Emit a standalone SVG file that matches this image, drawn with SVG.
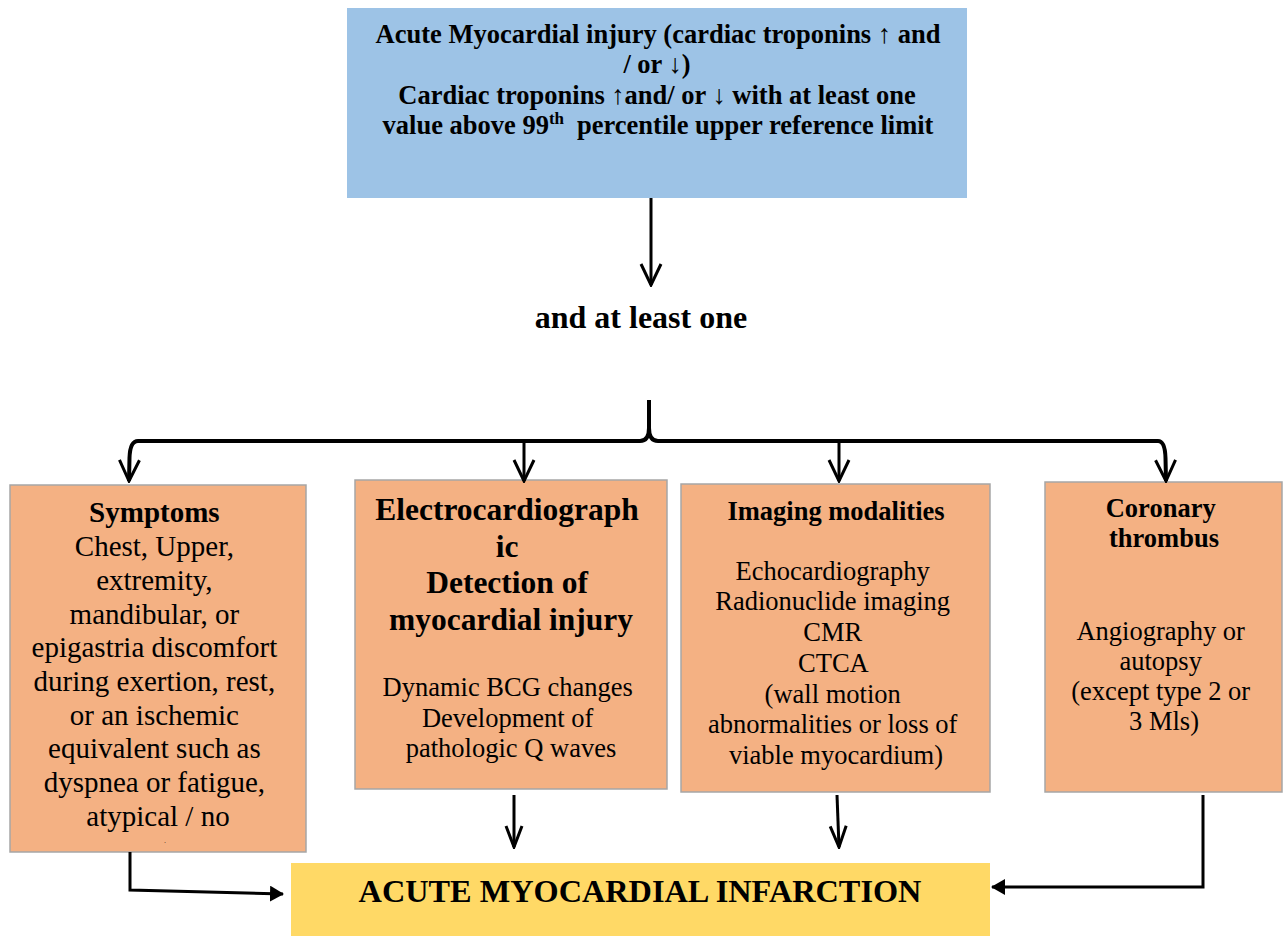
<svg xmlns="http://www.w3.org/2000/svg" width="1283" height="936" viewBox="0 0 1283 936">
<style>
text{font-family:"Liberation Serif","Times New Roman",serif;fill:#000;text-anchor:middle}
.b{font-weight:bold}
.top{font-size:26.5px;font-weight:bold}
.box{fill:#F4B183;stroke:#A6A6A6;stroke-width:1.5}
.ln{fill:none;stroke:#000;stroke-width:3}
.br{fill:none;stroke:#000;stroke-width:4}
</style>
<defs>
<marker id="vo" viewBox="0 0 24 24" refX="22" refY="12" markerWidth="24" markerHeight="24" markerUnits="userSpaceOnUse" orient="auto">
<path d="M1,2 L22,12 L1,22" fill="none" stroke="#000" stroke-width="3"/>
</marker>
<marker id="vs" viewBox="0 0 24 24" refX="22" refY="12" markerWidth="24" markerHeight="24" markerUnits="userSpaceOnUse" orient="auto">
<path d="M1,4 L22,12 L1,20" fill="none" stroke="#000" stroke-width="3"/>
</marker>
<marker id="tf" viewBox="0 0 14 16" refX="13" refY="8" markerWidth="14" markerHeight="16" markerUnits="userSpaceOnUse" orient="auto">
<path d="M0,0 L14,8 L0,16 Z" fill="#000"/>
</marker>
</defs>

<g id="top-node">
<rect x="347" y="8" width="620" height="190" fill="#9DC3E6"/>
<text class="top" x="658" y="43">Acute Myocardial injury (cardiac troponins ↑ and</text>
<text class="top" x="657" y="73">/ or ↓)</text>
<text class="top" x="657" y="104">Cardiac troponins ↑and/ or ↓ with at least one</text>
<text class="top" x="658" y="134">value above 99<tspan font-size="17" dy="-10">th</tspan><tspan dy="10" dx="13">percentile upper reference limit</tspan></text>
</g>

<g id="label-at-least">
<text class="b" x="641" y="328" font-size="32">and at least one</text>
</g>

<g id="symptoms">
<rect class="box" x="10" y="485" width="296" height="367"/>
<text x="158" font-size="29">
<tspan class="b" x="158" y="522">Symptoms</tspan>
<tspan x="158" y="556">Chest, Upper,</tspan>
<tspan x="158" y="590">extremity,</tspan>
<tspan x="158" y="624">mandibular, or</tspan>
<tspan x="158" y="657">epigastria discomfort</tspan>
<tspan x="158" y="691">during exertion, rest,</tspan>
<tspan x="158" y="725">or an ischemic</tspan>
<tspan x="158" y="758">equivalent such as</tspan>
<tspan x="158" y="792">dyspnea or fatigue,</tspan>
<tspan x="158" y="826">atypical / no</tspan>
</text>
<text x="165" y="843" font-size="6">.</text>
</g>

<g id="ecg">
<rect class="box" x="355" y="480" width="312" height="309"/>
<text class="b" font-size="31.5">
<tspan x="511" y="520">Electrocardiograph</tspan>
<tspan x="511" y="557">ic</tspan>
<tspan x="511" y="593">Detection of</tspan>
<tspan x="511" y="630">myocardial injury</tspan>
</text>
<text font-size="26.5">
<tspan x="511" y="696">Dynamic BCG changes</tspan>
<tspan x="511" y="727">Development of</tspan>
<tspan x="511" y="757">pathologic Q waves</tspan>
</text>
</g>

<g id="imaging">
<rect class="box" x="681" y="484" width="309" height="308"/>
<text class="b" x="836" y="520" font-size="26.5">Imaging modalities</text>
<text font-size="26.5">
<tspan x="836" y="580">Echocardiography</tspan>
<tspan x="836" y="610">Radionuclide imaging</tspan>
<tspan x="836" y="641">CMR</tspan>
<tspan x="836" y="672">CTCA</tspan>
<tspan x="836" y="703">(wall motion</tspan>
<tspan x="836" y="733">abnormalities or loss of</tspan>
<tspan x="836" y="764">viable myocardium)</tspan>
</text>
</g>

<g id="thrombus">
<rect class="box" x="1045" y="482" width="237" height="310"/>
<text class="b" font-size="26.5">
<tspan x="1164" y="517">Coronary</tspan>
<tspan x="1164" y="547">thrombus</tspan>
</text>
<text font-size="26.5">
<tspan x="1164" y="640">Angiography or</tspan>
<tspan x="1164" y="670">autopsy</tspan>
<tspan x="1164" y="700">(except type 2 or</tspan>
<tspan x="1164" y="730">3 Mls)</tspan>
</text>
</g>

<g id="ami">
<rect x="291" y="863" width="699" height="73" fill="#FFD966"/>
<text class="b" x="640" y="902" font-size="32.3">ACUTE MYOCARDIAL INFARCTION</text>
</g>

<g id="connectors">
<path class="ln" d="M651,198 L651,285" marker-end="url(#vo)"/>
<path class="br" d="M649,400 L649,428 Q649,441 640,441 L138,441 Q130,441 129.5,458 L129,481" marker-end="url(#vo)"/>
<path class="br" d="M649,428 Q649,441 658,441 L1158,441 Q1165,441 1165.5,458 L1166,481" marker-end="url(#vo)"/>
<path class="ln" d="M524,441 L524,481" marker-end="url(#vo)"/>
<path class="ln" d="M839,441 L839,481" marker-end="url(#vo)"/>
<path class="ln" d="M514,795 L514,847" marker-end="url(#vs)"/>
<path class="ln" d="M837,795 L839,847" marker-end="url(#vs)"/>
<path class="ln" d="M130,852 L130,890 L283,894" marker-end="url(#tf)"/>
<path class="ln" d="M1203,795 L1203,887 L992,887" marker-end="url(#tf)"/>
</g>
</svg>
